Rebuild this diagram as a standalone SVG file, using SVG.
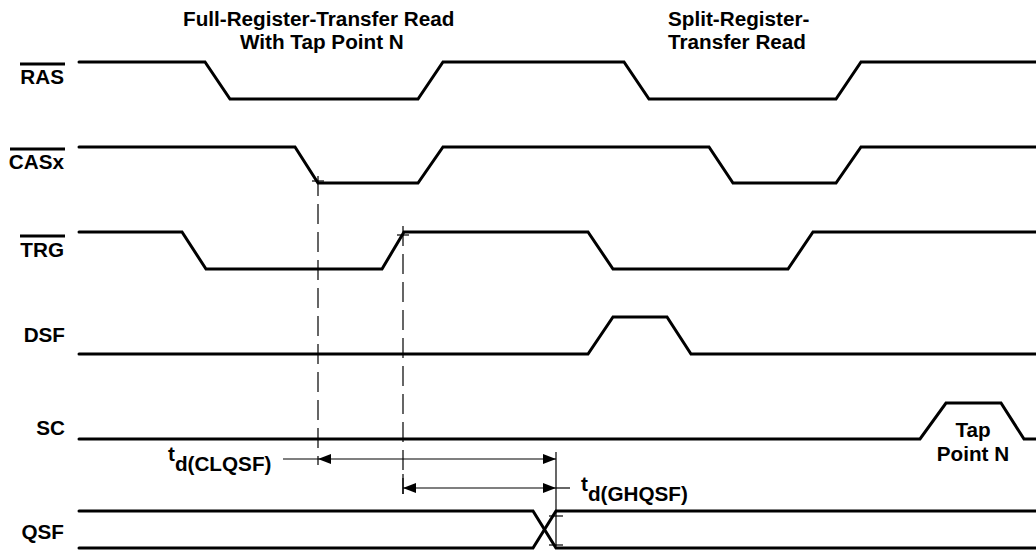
<svg xmlns="http://www.w3.org/2000/svg" width="1036" height="550" viewBox="0 0 1036 550">
<style>
.sig{fill:none;stroke:#000;stroke-width:3;stroke-linejoin:miter;stroke-linecap:round}
.bar{stroke:#000;stroke-width:3}
.lbl{font-family:"Liberation Sans",Arial,sans-serif;font-weight:bold;font-size:20.7px;fill:#000}
.dash{stroke:#000;stroke-width:1.2;stroke-dasharray:20 8;fill:none}
.thin{stroke:#000;stroke-width:1.2;fill:none}
</style>
<defs>
<marker id="ah" markerUnits="userSpaceOnUse" markerWidth="14" markerHeight="11" refX="13" refY="5" orient="auto-start-reverse">
<path d="M0,0 L13,5 L0,10 z" fill="#000"/>
</marker>
</defs>
<rect width="1036" height="550" fill="#fff"/>
<g id="titles">
<text class="lbl" x="183" y="26">Full-Register-Transfer Read</text>
<text class="lbl" x="240" y="49">With Tap Point N</text>
<text class="lbl" x="668" y="26">Split-Register-</text>
<text class="lbl" x="668" y="49">Transfer Read</text>
</g>
<g id="RAS">
<line class="bar" x1="20" y1="64" x2="65" y2="64"/>
<text class="lbl" x="64" y="84" text-anchor="end">RAS</text>
<path class="sig" d="M79,62 H205 L230,99 H418 L443,62 H624 L649,99 H836 L861,62 H1040"/>
</g>
<g id="CASx">
<line class="bar" x1="10" y1="149" x2="65" y2="149"/>
<text class="lbl" x="64" y="169" text-anchor="end">CASx</text>
<path class="sig" d="M79,147 H295 L318,183 H418 L443,147 H709 L733,183 H836 L861,147 H1040"/>
</g>
<g id="TRG">
<line class="bar" x1="20" y1="236" x2="65" y2="236"/>
<text class="lbl" x="64" y="257" text-anchor="end">TRG</text>
<path class="sig" d="M79,232 H182 L206,269 H382 L404,232 H588 L613,269 H788 L813,232 H1040"/>
</g>
<g id="DSF">
<text class="lbl" x="65" y="342" text-anchor="end">DSF</text>
<path class="sig" d="M79,354 H588 L613,317 H667 L691,354 H1040"/>
</g>
<g id="SC">
<text class="lbl" x="65" y="435" text-anchor="end">SC</text>
<path class="sig" d="M79,439 H920 L946,403 H1001 L1024,439 H1040"/>
<text class="lbl" x="973" y="437" text-anchor="middle">Tap</text>
<text class="lbl" x="973" y="461" text-anchor="middle">Point N</text>
</g>
<g id="QSF">
<text class="lbl" x="64" y="539" text-anchor="end">QSF</text>
<path class="sig" d="M79,511 H533 L556,548 H1040"/>
<path class="sig" d="M79,548 H533 L556,511 H1040"/>
</g>
<g id="connectors">
<line class="dash" x1="318" y1="176" x2="318" y2="465"/>
<line class="dash" x1="403" y1="226" x2="403" y2="494"/>
<line class="thin" x1="312" y1="181" x2="324" y2="181"/>
<line class="thin" x1="397" y1="235" x2="409" y2="235"/>
<line class="thin" x1="403" y1="474" x2="403" y2="494"/>
<line class="thin" x1="556" y1="452" x2="556" y2="546"/>
<line class="thin" x1="549" y1="516" x2="563" y2="516"/>
<line class="thin" x1="549" y1="545" x2="563" y2="545"/>
<line class="thin" x1="283" y1="459" x2="318" y2="459"/>
<line class="thin" x1="318" y1="459" x2="556" y2="459" marker-start="url(#ah)" marker-end="url(#ah)"/>
<line class="thin" x1="403" y1="488" x2="556" y2="488" marker-start="url(#ah)" marker-end="url(#ah)"/>
<line class="thin" x1="556" y1="488" x2="570" y2="488"/>
</g>
<g id="timing-labels">
<text class="lbl" x="168" y="461">t<tspan y="471">d(CLQSF)</tspan></text>
<text class="lbl" x="581" y="491">t<tspan y="501">d(GHQSF)</tspan></text>
</g>
</svg>
